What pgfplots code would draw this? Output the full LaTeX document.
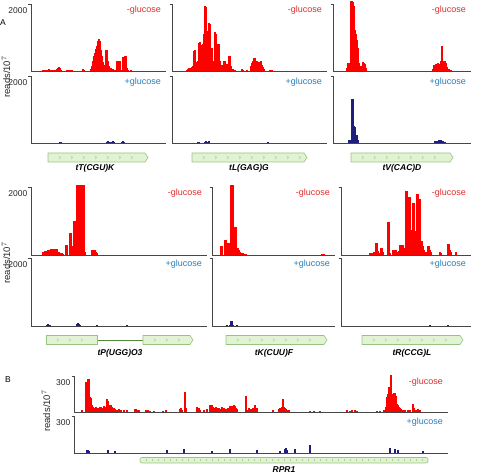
\documentclass[border=0pt]{standalone}
\usepackage{pgfplots}
\pgfplotsset{compat=1.18}
\usepackage{fontspec}
\setmainfont{Liberation Sans}
\definecolor{axgray}{RGB}{70,70,70}
\definecolor{barred}{RGB}{255,0,0}
\definecolor{navyb}{RGB}{30,30,125}
\definecolor{glcred}{RGB}{225,45,45}
\definecolor{glcblue}{RGB}{40,125,185}
\definecolor{genefill}{RGB}{226,243,212}
\definecolor{genedraw}{RGB}{150,196,130}
\definecolor{genechev}{RGB}{170,210,150}
\definecolor{geneline}{RGB}{80,140,60}
\pgfplotsset{
  trk/.style={
    scale only axis, axis x line*=bottom, axis y line*=left,
    axis line style={-, draw=axgray, line width=0.9pt},
    xmin=0, ymin=0, ymax=2000, xtick=\empty, ytick={2000}, yticklabels={2000},
    tick align=outside, major tick length=2.5pt,
    tick style={draw=axgray, line width=0.8pt},
    yticklabel style={anchor=north east, font=\fontsize{8.5}{9}\selectfont, inner sep=1pt, text=black!85, yshift=-2.5pt},
    clip=false,
  },
  redbars/.style={ycomb, draw=barred, line width=1.05pt, no markers},
  bluebars/.style={ycomb, draw=navyb, line width=1.05pt, no markers},
}
\newcommand{\minusg}{\node[anchor=north east, text=glcred, font=\fontsize{9}{9}\selectfont, inner sep=0pt] at (rel axis cs:1,1) [xshift=-5pt, yshift=-2pt] {-glucose};}
\newcommand{\plusg}{\node[anchor=north east, text=glcblue, font=\fontsize{9}{9}\selectfont, inner sep=0pt] at (rel axis cs:1,1) [xshift=-5pt, yshift=-2pt] {+glucose};}
\newcommand{\gene}[3]{% x1, x2, ycenter (tikz pt), arrow box
  \draw[fill=genefill, draw=genedraw, line width=0.6pt] (#1pt,#3pt-4.5pt) -- (#2pt-3pt,#3pt-4.5pt) -- (#2pt,#3pt) -- (#2pt-3pt,#3pt+4.5pt) -- (#1pt,#3pt+4.5pt) -- cycle;
}
\newcommand{\chev}[4]{% first, second, last, y
  \foreach \cx in {#1,#2,...,#3} {\draw[genechev, line width=0.5pt] (\cx pt-1pt,#4pt+1.5pt) -- (\cx pt+0.5pt,#4pt) -- (\cx pt-1pt,#4pt-1.5pt);}
}
\begin{document}
\begin{tikzpicture}
\useasboundingbox (0,0) rectangle (481pt,473pt);
% ---------------- Row 1 ----------------
% tT top
\begin{axis}[trk, at={(31pt,402pt)}, anchor=south west, width=135pt, height=67pt, xmax=135]
\addplot[redbars] coordinates {(12,30)(13,30)(14,40)(15,30)(16,40)(17,30)(18,50)(19,40)(20,30)(22,30)(24,40)(26,60)(27,100)(28,120)(29,90)(30,40)(36,30)(37,40)(38,30)(40,30)(41,30)(52,70)(53,40)(60,60)(61,150)(62,300)(63,450)(64,550)(65,650)(66,750)(67,900)(68,960)(69,900)(70,620)(71,450)(72,280)(73,150)(74,180)(75,640)(76,620)(77,300)(78,150)(79,90)(80,80)(81,60)(82,60)(84,30)(86,300)(87,310)(88,300)(89,290)(90,40)(92,420)(93,430)(94,450)(95,440)(96,100)(97,30)(100,20)};
\minusg
\end{axis}
% tT bottom
\begin{axis}[trk, at={(31pt,330pt)}, anchor=south west, width=135pt, height=67pt, xmax=135]
\addplot[bluebars] coordinates {(29,30)(30,20)(76,40)(77,60)(78,40)(80,30)(82,50)(83,30)(91,40)(92,60)(93,40)};
\plusg
\end{axis}
% tL top
\begin{axis}[trk, at={(172pt,402pt)}, anchor=south west, width=155pt, height=67pt, xmax=155, yticklabels={}]
\addplot[redbars] coordinates {(15,30)(16,50)(17,80)(18,90)(19,100)(20,120)(21,150)(22,600)(23,620)(24,250)(25,280)(26,300)(27,850)(28,860)(29,400)(30,780)(31,800)(32,1100)(33,1950)(34,1900)(35,1200)(36,700)(37,1420)(38,1400)(39,700)(40,680)(41,250)(42,300)(43,1150)(44,1100)(45,400)(46,820)(47,800)(48,300)(49,180)(50,180)(51,160)(52,300)(53,310)(54,200)(55,180)(56,200)(57,450)(58,460)(59,150)(60,60)(61,50)(62,40)(63,30)(70,60)(71,40)(75,30)(79,150)(80,250)(81,300)(82,400)(83,380)(84,250)(85,300)(86,200)(87,260)(88,200)(89,300)(90,180)(91,120)(92,60)(98,30)(99,30)(100,30)};
\minusg
\end{axis}
% tL bottom
\begin{axis}[trk, at={(172pt,330pt)}, anchor=south west, width=155pt, height=67pt, xmax=155, yticklabels={}]
\addplot[bluebars] coordinates {(26,40)(27,30)(33,40)(34,50)(36,40)(37,50)(96,40)};
\plusg
\end{axis}
% tV top
\begin{axis}[trk, at={(333pt,402pt)}, anchor=south west, width=138pt, height=67pt, xmax=138, yticklabels={}]
\addplot[redbars] coordinates {(14,80)(15,230)(16,230)(17,250)(18,2080)(19,2080)(20,2060)(21,1950)(22,1230)(23,1100)(24,930)(25,700)(26,230)(27,150)(28,100)(29,150)(30,280)(31,250)(32,200)(33,80)(100,60)(101,180)(102,150)(103,200)(104,170)(105,230)(106,220)(107,180)(108,300)(109,760)(110,300)(111,280)(112,300)(113,250)(114,120)(115,60)(116,60)(118,40)};
\minusg
\end{axis}
% tV bottom
\begin{axis}[trk, at={(333pt,330pt)}, anchor=south west, width=138pt, height=67pt, xmax=138, yticklabels={}]
\addplot[bluebars] coordinates {(16,100)(17,80)(19,1320)(20,1320)(21,500)(22,480)(23,250)(24,250)(25,80)(102,60)(104,60)(106,90)(108,90)(110,60)(112,40)};
\plusg
\end{axis}
% ---------------- Row 2 ----------------
% tP top
\begin{axis}[trk, at={(31pt,218pt)}, anchor=south west, width=176pt, height=68pt, xmax=176]
\addplot[redbars] coordinates {(12,80)(13,100)(14,120)(15,130)(16,130)(17,140)(18,150)(19,160)(20,170)(21,170)(22,180)(23,180)(24,180)(25,170)(26,180)(27,100)(28,80)(29,60)(31,50)(32,40)(35,300)(36,300)(39,650)(40,640)(41,250)(42,230)(43,1000)(44,1000)(45,600)(46,2050)(47,2050)(48,2050)(49,2050)(50,2050)(51,2050)(52,2050)(53,2050)(54,100)(61,140)(62,150)(63,160)(64,150)(65,100)(66,60)};
\minusg
\end{axis}
% tP bottom
\begin{axis}[trk, at={(31pt,147pt)}, anchor=south west, width=176pt, height=68pt, xmax=176]
\addplot[bluebars] coordinates {(16,40)(17,60)(18,40)(19,30)(46,50)(47,80)(48,60)(49,30)(66,30)(96,20)};
\plusg
\end{axis}
% tK top
\begin{axis}[trk, at={(212pt,218pt)}, anchor=south west, width=123pt, height=68pt, xmax=123, yticklabels={}]
\addplot[redbars] coordinates {(9,250)(10,250)(13,440)(14,430)(15,60)(16,350)(17,360)(18,340)(19,2050)(20,2050)(21,2050)(22,830)(23,830)(24,820)(25,200)(26,200)(27,150)(28,100)(29,70)(30,70)(31,60)(32,40)(34,30)(110,30)(112,30)};
\minusg
\end{axis}
% tK bottom
\begin{axis}[trk, at={(212pt,147pt)}, anchor=south west, width=123pt, height=68pt, xmax=123, yticklabels={}]
\addplot[bluebars] coordinates {(15,20)(18,40)(19,140)(20,140)(21,40)(25,20)};
\plusg
\end{axis}
% tR top
\begin{axis}[trk, at={(341pt,218pt)}, anchor=south west, width=130pt, height=68pt, xmax=130, yticklabels={}]
\addplot[redbars] coordinates {(29,50)(30,40)(31,60)(33,100)(34,100)(35,360)(36,360)(37,120)(38,50)(40,200)(41,200)(42,80)(47,960)(48,960)(49,50)(52,150)(53,120)(54,160)(55,140)(56,80)(58,120)(59,300)(60,300)(61,200)(62,280)(63,150)(64,200)(65,1880)(66,1880)(67,540)(68,1700)(69,1700)(70,730)(71,730)(72,1520)(73,1520)(74,700)(75,700)(76,1780)(77,1780)(78,1640)(79,1640)(80,400)(81,400)(82,250)(83,150)(84,100)(85,100)(87,250)(88,250)(89,150)(90,80)(99,100)(100,60)(107,330)(108,330)(109,150)(110,100)(115,80)};
\minusg
\end{axis}
% tR bottom
\begin{axis}[trk, at={(341pt,147pt)}, anchor=south west, width=130pt, height=68pt, xmax=130, yticklabels={}]
\addplot[bluebars] coordinates {(89,30)(107,30)};
\plusg
\end{axis}
% ---------------- Panel B ----------------
\begin{axis}[trk, at={(74pt,61pt)}, anchor=south west, width=374pt, height=36pt, xmax=374, ymax=300, ytick={300}, yticklabels={300}]
\addplot[redbars] coordinates {(8,17)(12,253)(13,211)(14,272)(15,272)(16,128)(17,120)(18,58)(19,40)(20,30)(21,25)(22,40)(23,20)(24,35)(25,30)(26,40)(27,45)(28,30)(29,35)(30,50)(31,40)(32,35)(33,105)(34,90)(35,60)(36,50)(37,55)(38,45)(39,30)(40,35)(41,25)(43,20)(45,22)(47,15)(50,20)(53,18)(61,22)(62,25)(63,20)(65,20)(72,15)(74,20)(76,12)(80,10)(89,12)(92,15)(106,22)(107,30)(108,18)(111,164)(112,30)(123,40)(124,30)(125,35)(126,20)(130,15)(133,22)(136,58)(137,45)(138,55)(139,40)(140,35)(141,30)(142,40)(143,30)(145,35)(147,25)(148,40)(150,30)(152,25)(154,30)(156,50)(157,45)(158,50)(159,40)(160,55)(161,50)(162,30)(163,25)(172,133)(173,20)(175,30)(177,25)(179,30)(181,55)(183,30)(199,15)(205,25)(206,30)(207,35)(208,40)(209,105)(210,40)(211,35)(212,25)(213,20)(215,15)(236,10)(240,8)(246,10)(273,15)(276,10)(278,15)(281,18)(283,12)(303,10)(306,12)(310,15)(312,40)(313,128)(314,150)(315,211)(316,190)(317,310)(318,150)(319,100)(320,155)(321,160)(322,130)(323,70)(324,60)(325,45)(326,30)(327,25)(329,20)(331,15)(334,20)(336,18)(339,64)(340,30)(342,20)(344,22)(346,18)};
\minusg
\end{axis}
\begin{axis}[trk, at={(74pt,20pt)}, anchor=south west, width=374pt, height=37pt, xmax=374, ymax=300, ytick={300}, yticklabels={300}]
\addplot[bluebars] coordinates {(13,22)(14,25)(15,20)(34,27)(41,15)(93,22)(110,35)(138,17)(156,35)(183,22)(206,17)(211,30)(212,40)(213,25)(221,30)(236,68)(316,44)(321,30)(324,22)(349,15)};
\plusg
\end{axis}
% ---------------- annotations ----------------
\node[font=\fontsize{8.5}{9}\selectfont, inner sep=0pt] at (3pt,450pt) {A};
\node[font=\fontsize{8.5}{9}\selectfont, inner sep=0pt] at (8pt,93pt) {B};
\node[rotate=90, font=\fontsize{9.5}{10}\selectfont, inner sep=0pt, text=black!85] at (6pt,396pt) {reads/10$^{7}$};
\node[rotate=90, font=\fontsize{9.5}{10}\selectfont, inner sep=0pt, text=black!85] at (6pt,210pt) {reads/10$^{7}$};
\node[rotate=90, font=\fontsize{9.5}{10}\selectfont, inner sep=0pt, text=black!85] at (46pt,62pt) {reads/10$^{7}$};
% genes row 1 (center y = 315.5)
\gene{48}{148}{315.5}\chev{60}{72}{140}{315.5}
\gene{192}{307}{315.5}\chev{204}{216}{300}{315.5}
\gene{351}{453}{315.5}\chev{363}{375}{446}{315.5}
\node[font=\bfseries\itshape\fontsize{8.5}{9}\selectfont, inner sep=0pt] at (95pt,305pt) {tT(CGU)K};
\node[font=\bfseries\itshape\fontsize{8.5}{9}\selectfont, inner sep=0pt] at (249pt,305pt) {tL(GAG)G};
\node[font=\bfseries\itshape\fontsize{8.5}{9}\selectfont, inner sep=0pt] at (402pt,305pt) {tV(CAC)D};
% genes row 2 (center y = 133)
\draw[geneline, line width=0.9pt] (97pt,133pt) -- (143pt,133pt);
\draw[fill=genefill, draw=genedraw, line width=0.6pt] (46pt,128.5pt) rectangle (97pt,137.5pt);
\chev{58}{70}{90}{133}
\gene{143}{193}{133}\chev{155}{167}{186}{133}
\gene{226}{327}{133}\chev{238}{250}{320}{133}
\gene{362}{463}{133}\chev{374}{386}{456}{133}
\node[font=\bfseries\itshape\fontsize{8.5}{9}\selectfont, inner sep=0pt] at (120pt,120pt) {tP(UGG)O3};
\node[font=\bfseries\itshape\fontsize{8.5}{9}\selectfont, inner sep=0pt] at (274pt,120pt) {tK(CUU)F};
\node[font=\bfseries\itshape\fontsize{8.5}{9}\selectfont, inner sep=0pt] at (412pt,120pt) {tR(CCG)L};
% RPR1
\draw[fill=genefill, draw=genedraw, line width=0.6pt, rounded corners=2pt] (140pt,10pt) rectangle (428pt,15.5pt);
\foreach \tx in {146,152,...,424} {\draw[genechev, line width=0.4pt] (\tx pt,11.5pt) -- (\tx pt,14pt);}
\node[font=\bfseries\itshape\fontsize{8.5}{9}\selectfont, inner sep=0pt] at (284pt,3.5pt) {RPR1};
\end{tikzpicture}
\end{document}
